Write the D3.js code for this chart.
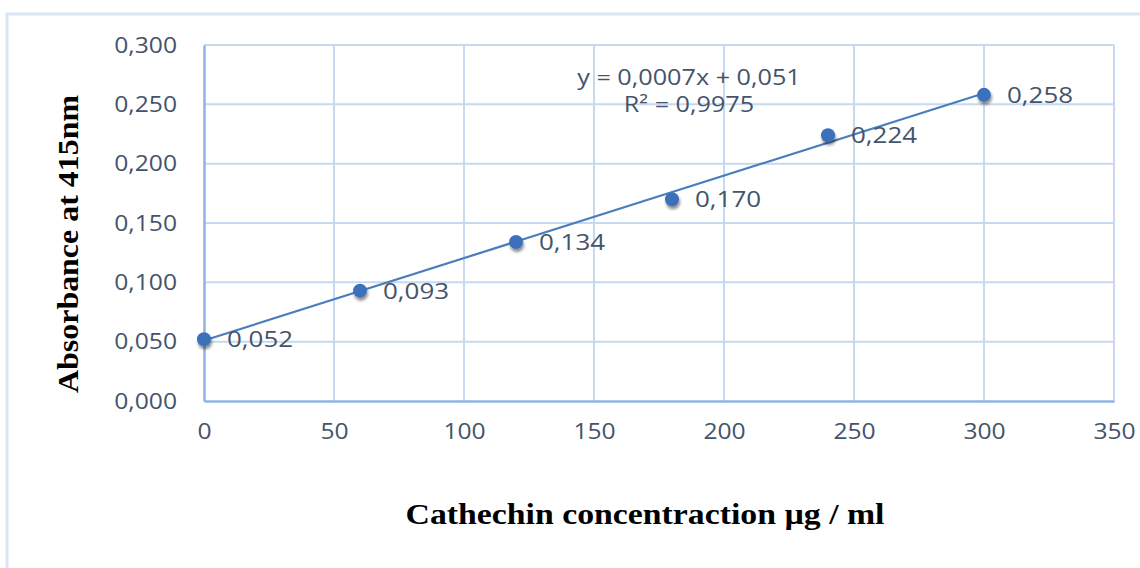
<!DOCTYPE html>
<html>
<head>
<meta charset="utf-8">
<script src="https://cdn.jsdelivr.net/npm/d3@7"></script>
<style>
  body { margin: 0; background: #fff; }
  .tick text { font-family: "Open Sans", sans-serif; font-size: 22px; fill: #44546a; }
  .title { font-family: "Liberation Serif", serif; font-weight: bold; font-size: 30px; fill: #000; }
</style>
</head>
<body>
<div id="chart"></div>
<script>
// concentration (µg/ml) and absorbance at 415nm
const concentrations = [0, 60, 120, 180, 240, 300];
const absorbances = [0.052, 0.093, 0.134, 0.170, 0.224, 0.258];
const xTicks = [0, 50, 100, 150, 200, 250, 300, 350];
const yTicks = [0, 0.05, 0.10, 0.15, 0.20, 0.25, 0.30];
const equationLines = ['y = 0,0007x + 0,051', 'R² = 0,9975'];

const W = 1140, H = 568;
const margin = { top: 45, right: 26, bottom: 167, left: 204 };
const width = W - margin.left - margin.right;
const height = H - margin.top - margin.bottom;

const comma = f => v => d3.format(f)(v).replace('.', ',');

// the source picture is stretched sideways, widen the text to match
const stretch = (sel, k) => sel.each(function () {
  const len = this.getComputedTextLength();
  d3.select(this).attr('textLength', len * k).attr('lengthAdjust', 'spacingAndGlyphs');
});

const svg = d3.select('#chart').append('svg')
  .attr('width', W).attr('height', H);

// outer chart border (cut off at right/bottom like the source)
svg.append('rect')
  .attr('x', 7).attr('y', 14)
  .attr('width', W + 20).attr('height', H + 20)
  .attr('fill', 'none').attr('stroke', '#dae5f3').attr('stroke-width', 3);

const defs = svg.append('defs');
const shadow = defs.append('filter').attr('id', 'shadow')
  .attr('x', '-50%').attr('y', '-50%').attr('width', '200%').attr('height', '200%');
shadow.append('feGaussianBlur').attr('in', 'SourceAlpha').attr('stdDeviation', 1.8);
shadow.append('feOffset').attr('dx', 1).attr('dy', 3).attr('result', 'b');
shadow.append('feComponentTransfer').append('feFuncA').attr('type', 'linear').attr('slope', 0.45);
const merge = shadow.append('feMerge');
merge.append('feMergeNode');
merge.append('feMergeNode').attr('in', 'SourceGraphic');

const g = svg.append('g')
  .attr('transform', 'translate(' + margin.left + ',' + margin.top + ')');

const x = d3.scaleLinear().domain([0, 350]).range([0, width]);
const y = d3.scaleLinear().domain([0, 0.3]).range([height, 0]);

// grid
g.append('g').selectAll('line').data(xTicks.slice(1)).enter().append('line')
  .attr('x1', d => x(d)).attr('x2', d => x(d))
  .attr('y1', 0).attr('y2', height)
  .attr('stroke', '#c6d9f0').attr('stroke-width', 2);
g.append('g').selectAll('line').data(yTicks.slice(1)).enter().append('line')
  .attr('x1', 0).attr('x2', width)
  .attr('y1', d => y(d)).attr('y2', d => y(d))
  .attr('stroke', '#c6d9f0').attr('stroke-width', 2);

// axes
const xAxis = g.append('g')
  .attr('transform', 'translate(0,' + height + ')')
  .call(d3.axisBottom(x).tickValues(xTicks).tickSize(0).tickPadding(22));
const yAxis = g.append('g')
  .call(d3.axisLeft(y).tickValues(yTicks).tickSize(0).tickPadding(27).tickFormat(comma('.3f')));
[xAxis, yAxis].forEach(a => {
  a.select('.domain').attr('stroke', '#8eb4e3').attr('stroke-width', 2.5);
  stretch(a.selectAll('.tick text'), 1.12);
});

// linear trendline from least squares
const mx = d3.mean(concentrations), my = d3.mean(absorbances);
let sxy = 0, sxx = 0;
concentrations.forEach((c, i) => { sxy += (c - mx) * (absorbances[i] - my); sxx += (c - mx) ** 2; });
const slope = sxy / sxx, intercept = my - slope * mx;
const xExt = d3.extent(concentrations);
g.append('line')
  .attr('x1', x(xExt[0])).attr('y1', y(intercept + slope * xExt[0]))
  .attr('x2', x(xExt[1])).attr('y2', y(intercept + slope * xExt[1]))
  .attr('stroke', '#4a7ebb').attr('stroke-width', 2.2);

// points
const pts = concentrations.map((c, i) => ({ c, a: absorbances[i] }));
g.selectAll('.dot').data(pts).enter().append('circle')
  .attr('class', 'dot')
  .attr('cx', d => x(d.c)).attr('cy', d => y(d.a))
  .attr('r', 7)
  .attr('fill', '#3c70bb')
  .attr('filter', 'url(#shadow)');

// data labels
stretch(g.selectAll('.lbl').data(pts).enter().append('text')
  .attr('class', 'lbl')
  .attr('x', d => x(d.c) + 23).attr('y', d => y(d.a) + 8)
  .attr('font-family', '"Open Sans", sans-serif').attr('font-size', 22)
  .attr('fill', '#44546a')
  .text(d => comma('.3f')(d.a)), 1.18);

// equation
stretch(g.selectAll('.eq').data(equationLines).enter().append('text')
  .attr('class', 'eq')
  .attr('x', 485).attr('y', (d, i) => 40 + i * 27)
  .attr('text-anchor', 'middle')
  .attr('font-family', '"Open Sans", sans-serif').attr('font-size', 21)
  .attr('fill', '#44546a')
  .text(d => d), 1.2);

// axis titles
svg.append('text').attr('class', 'title')
  .attr('x', 645).attr('y', 524)
  .attr('text-anchor', 'middle')
  .attr('textLength', 479).attr('lengthAdjust', 'spacingAndGlyphs')
  .text('Cathechin concentraction µg  / ml');
svg.append('text').attr('class', 'title')
  .attr('transform', 'translate(78,244) rotate(-90)')
  .attr('text-anchor', 'middle')
  .attr('textLength', 298).attr('lengthAdjust', 'spacingAndGlyphs')
  .text('Absorbance at 415nm');
</script>
</body>
</html>
